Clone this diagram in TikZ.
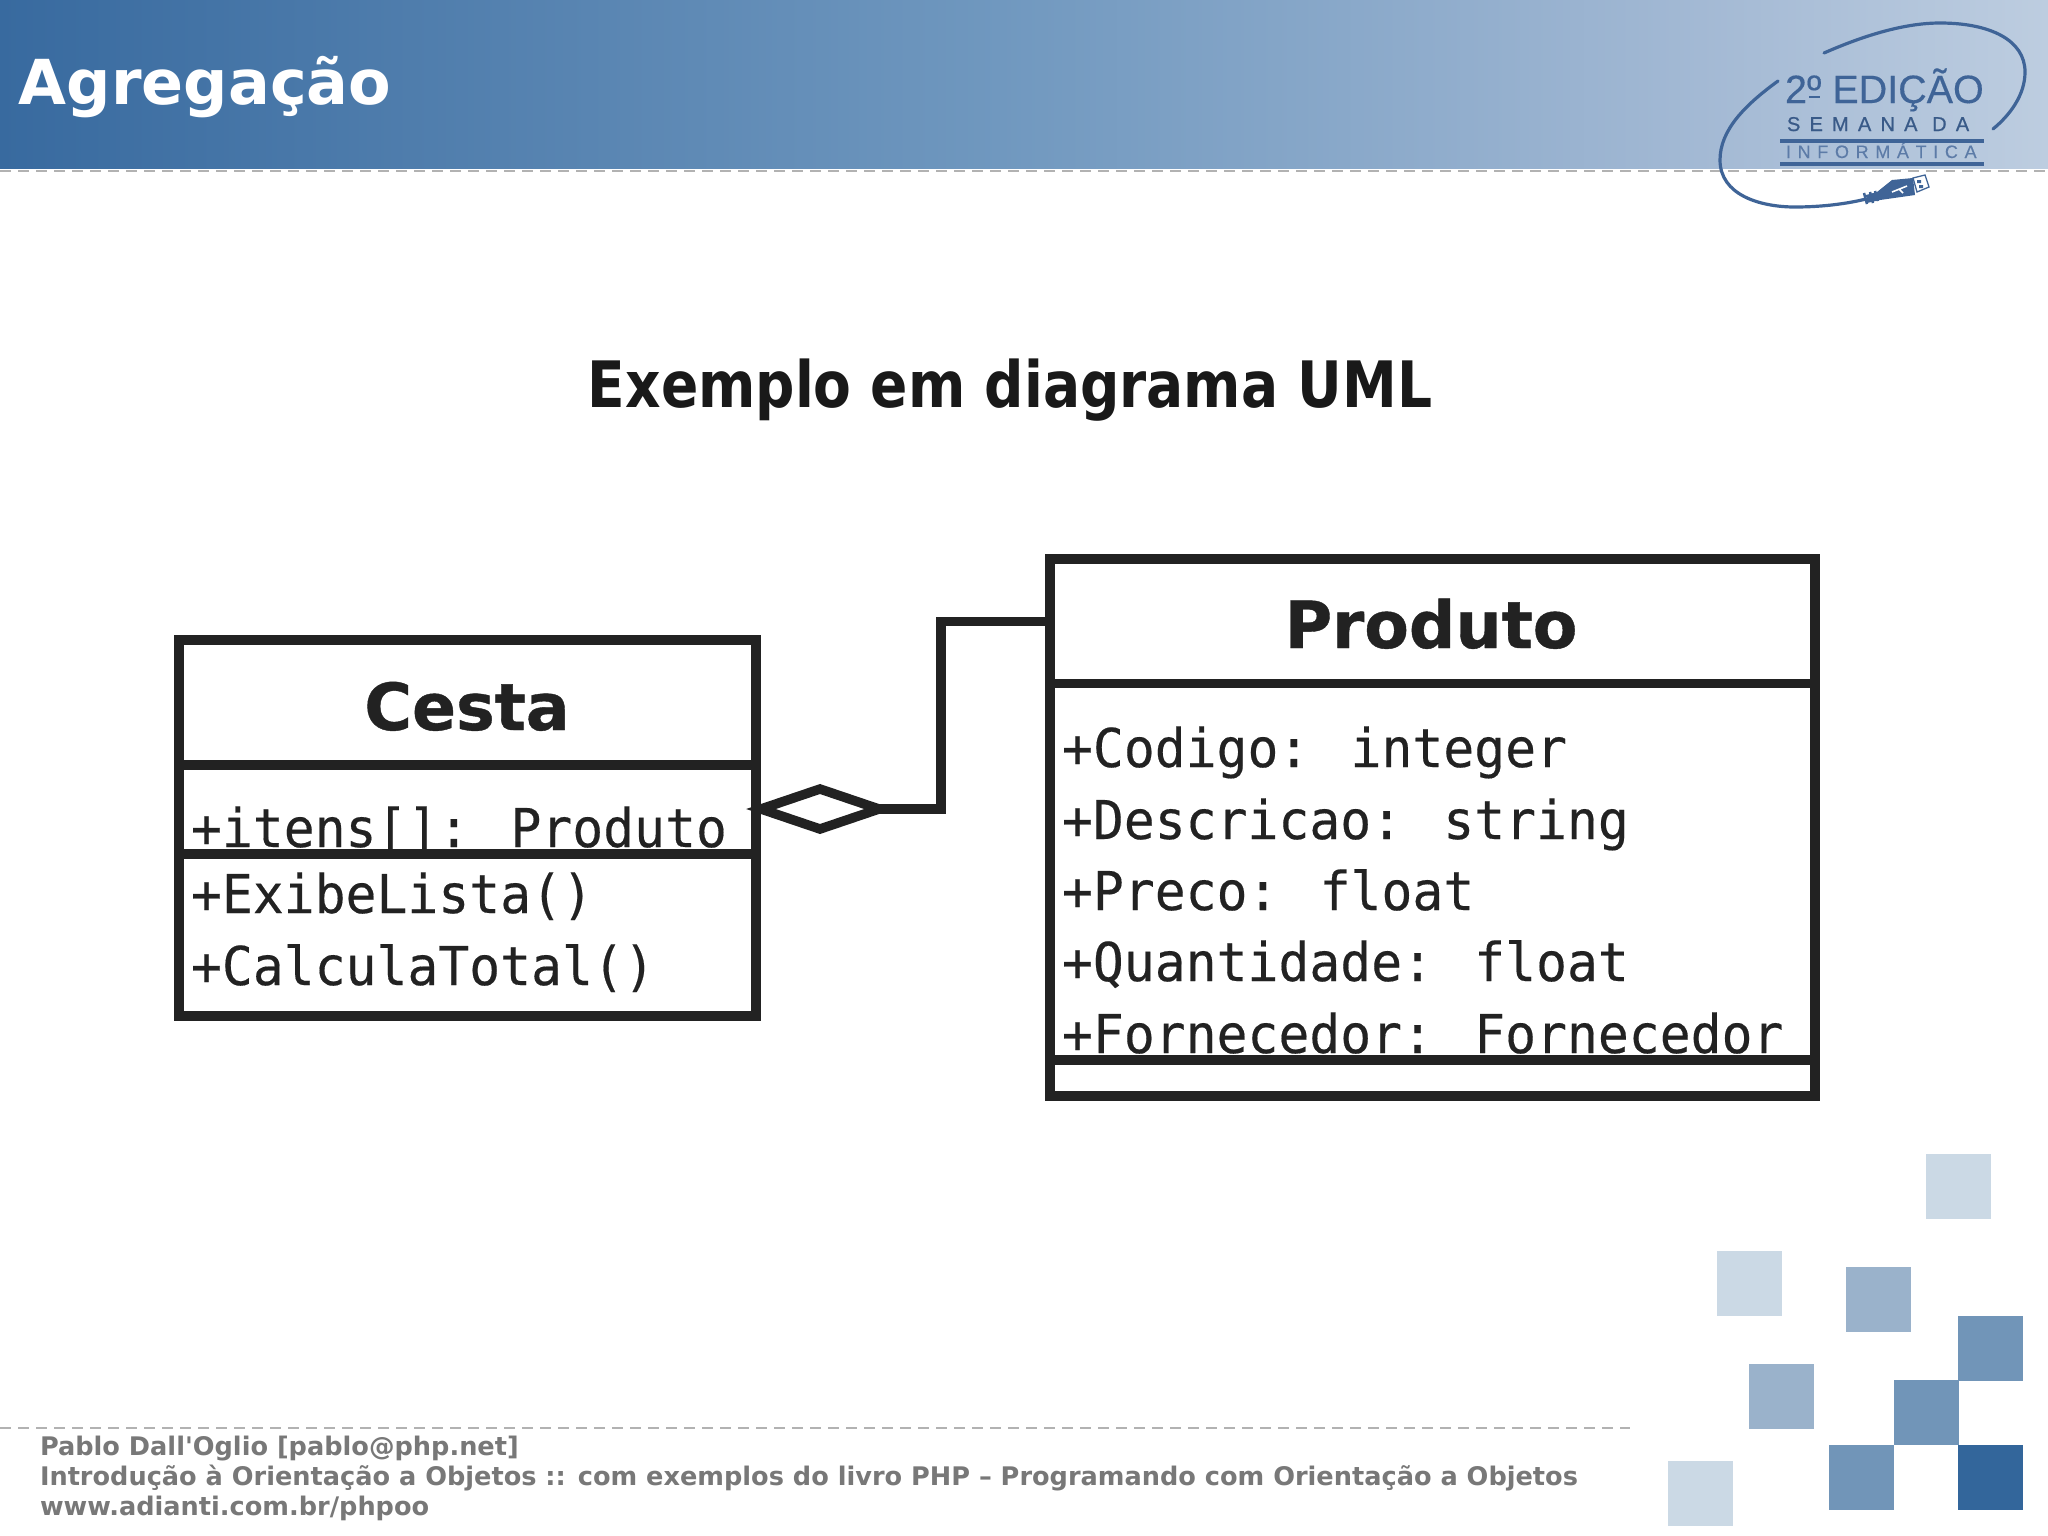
\documentclass[tikz,border=0pt]{standalone}
\usepackage{fontspec}
\usetikzlibrary{shapes.geometric}
\setmainfont{DejaVu Sans}
\newfontfamily\monoF[FakeStretch=0.96,FakeBold=0.3]{DejaVu Sans Mono}
\newfontfamily\boldF{DejaVu Sans Bold}
\newfontfamily\nameF[FakeBold=0.6]{DejaVu Sans Bold}
\newfontfamily\titleF[FakeStretch=0.86]{DejaVu Sans Bold}
\newfontfamily\logoF[FakeBold=0.3]{Liberation Sans}
\newfontfamily\logoS[LetterSpace=46,FakeBold=0.8]{Liberation Sans}
\newfontfamily\logoT[LetterSpace=37,FakeBold=0.2]{Liberation Sans}
\definecolor{ink}{HTML}{222222}
\definecolor{logoblue}{HTML}{3F6497}
\definecolor{sqA}{HTML}{CBD9E5}
\definecolor{sqB}{HTML}{9AB2CB}
\definecolor{sqC}{HTML}{7195B8}
\definecolor{sqD}{HTML}{33669B}
\definecolor{banA}{HTML}{386A9F}
\definecolor{banB}{HTML}{7098BF}
\definecolor{banC}{HTML}{A3B9D4}
\definecolor{banD}{HTML}{BDCDE0}
\tikzset{
 x=1pt,y=-1pt,
 every node/.style={inner sep=0pt,outer sep=0pt},
 comp/.style={draw=ink,line width=9.5pt,rectangle,anchor=north west,fill=white},
 attr/.style={anchor=base west,text=ink,font=\monoF\fontsize{53.5}{53.5}\selectfont},
 classname/.style={anchor=base,text=ink,font=\nameF\fontsize{65}{65}\selectfont},
 foot/.style={anchor=base west,text=black!53,font=\boldF\fontsize{25.6}{25.6}\selectfont},
 square/.style={fill=#1,draw=none,minimum width=64.5pt,minimum height=64.5pt,anchor=north west},
 dashline/.style={draw=black!30,line width=2pt,dash pattern=on 11pt off 7pt},
 logoline/.style={draw=logoblue,line width=3.5pt},
 cable/.style={draw=logoblue,line width=3.2pt,line cap=round}
}
\begin{document}
\begin{tikzpicture}
\useasboundingbox (0,0) rectangle (2048,1535);
\fill[white] (0,0) rectangle (2048,1535);
% banner
\fill[left color=banA, right color=banB] (0,0) rectangle (1000,168);
\fill[left color=banB, right color=banC] (1000,0) rectangle (1700,168);
\fill[left color=banC, right color=banD] (1700,0) rectangle (2048,168);
\coordinate (dashA) at (0,171);
\coordinate (dashB) at (2048,171);
\draw[dashline] (dashA) -- (dashB);
\node[anchor=base west,text=white,font=\boldF\fontsize{62}{62}\selectfont] (pagetitle) at (19,104) {Agregação};
% logo
\node[anchor=base west,text=logoblue,font=\logoF\fontsize{39.5}{39.5}\selectfont] (logoA) at (1785,103) {2º EDIÇÃO};
\fill[logoblue] (1809,95.5) rectangle (1820,97.5);
\node[anchor=base west,text=logoblue!90!black,font=\logoS\fontsize{20}{20}\selectfont] (logoB) at (1787,131) {SEMANA DA};
\node[anchor=base west,text=logoblue!85,font=\logoT\fontsize{18}{18}\selectfont] (logoC) at (1786,158) {INFORMÁTICA};
\draw[logoline] (1780,141) -- (1984,141);
\draw[logoline] (1780,164) -- (1984,164);
\draw[cable] (1824,53) .. controls (1865,35) and (1905,23) .. (1940,23)
  .. controls (1990,23) and (2025,40) .. (2025,72)
  .. controls (2025,95) and (2010,115) .. (1993,129);
\draw[cable] (1778,81) .. controls (1745,105) and (1720,130) .. (1720,160)
  .. controls (1720,195) and (1760,207) .. (1795,207)
  .. controls (1825,207) and (1850,203) .. (1866,199);
\draw[logoblue,line width=2.5pt] (1864,193) -- (1867,204) (1870,192) -- (1873,203) (1875,191) -- (1878,201);
\fill[logoblue] (1866,195) -- (1877,192) -- (1892,180) -- (1913,178) -- (1915,195) -- (1880,200) -- (1867,203) -- cycle;
\draw[logoblue,line width=1.3pt,fill=white] (1913,178) -- (1925,175) -- (1929,187) -- (1917,192) -- cycle;
\fill[logoblue] (1917,180) rectangle (1921,183) (1919,185) rectangle (1923,188);
\draw[white,line width=1.6pt] (1892,192) -- (1907,186) (1899,189) -- (1903,193);
% title
\node[anchor=base,text=black!90,font=\titleF\fontsize{64}{64}\selectfont] (heading) at (1010,407) {Exemplo em diagrama UML};
% Cesta
\node[comp,minimum width=577pt,minimum height=125pt] (cestaHead) at (179,640) {};
\node[comp,minimum width=577pt,minimum height=89pt] (cestaAttr) at (179,765) {};
\node[comp,minimum width=577pt,minimum height=162pt] (cestaOps) at (179,854) {};
\node[classname] (cestaName) at (467,730) {Cesta};
\node[attr] (cA) at (191,847) {+itens[]: Produto};
\node[attr] (cB) at (191,913) {+ExibeLista()};
\node[attr] (cC) at (191,985) {+CalculaTotal()};
% Produto
\node[comp,minimum width=765pt,minimum height=124.5pt] (prodHead) at (1050,559) {};
\node[comp,minimum width=765pt,minimum height=376.5pt] (prodAttr) at (1050,683.5) {};
\node[comp,minimum width=765pt,minimum height=36pt] (prodOps) at (1050,1060) {};
\node[classname] (prodName) at (1431,648) {Produto};
\node[attr] (pA) at (1062,767) {+Codigo: integer};
\node[attr] (pB) at (1062,839) {+Descricao: string};
\node[attr] (pC) at (1062,910) {+Preco: float};
\node[attr] (pD) at (1062,981) {+Quantidade: float};
\node[attr] (pE) at (1062,1053) {+Fornecedor: Fornecedor};
% aggregation
\node[diamond,draw=ink,fill=white,line width=9.5pt,minimum width=118pt,minimum height=40pt,inner sep=0pt] (agg) at (820,809) {};
\coordinate (bend) at (941,809);
\draw[draw=ink,line width=9.5pt] (agg.east) -- (bend) -- (bend |- prodHead.west) -- (prodHead.west);
% footer
\coordinate (footA) at (0,1428);
\coordinate (footB) at (1630,1428);
\draw[dashline] (footA) -- (footB);
\node[foot] (f1) at (40,1455) {Pablo Dall'Oglio [pablo@php.net]};
\node[foot] (f2) at (40,1485) {Introdução à Orientação a Objetos :: com exemplos do livro PHP – Programando com Orientação a Objetos};
\node[foot] (f3) at (40,1515) {www.adianti.com.br/phpoo};
% squares
\node[square=sqA] (s1) at (1926,1154) {};
\node[square=sqA] (s2) at (1717,1251) {};
\node[square=sqB] (s3) at (1846,1267) {};
\node[square=sqC] (s4) at (1958,1316) {};
\node[square=sqB] (s5) at (1749,1364) {};
\node[square=sqC] (s6) at (1894,1380) {};
\node[square=sqC] (s7) at (1829,1445) {};
\node[square=sqD] (s8) at (1958,1445) {};
\node[square=sqA] (s9) at (1668,1461) {};
\end{tikzpicture}
\end{document}
